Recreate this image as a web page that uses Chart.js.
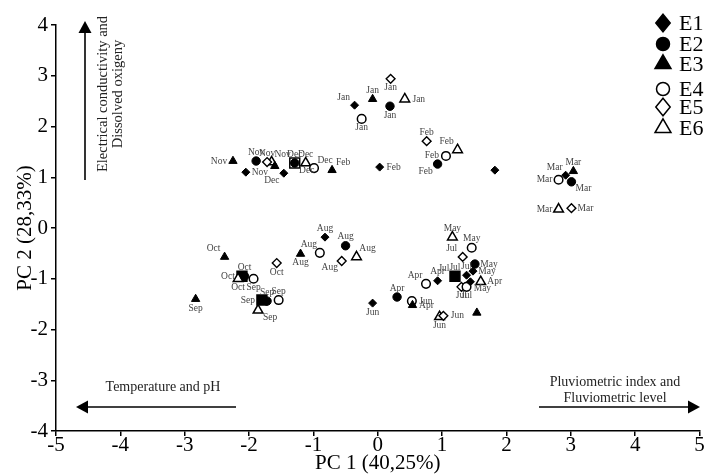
<!DOCTYPE html>
<html>
<head>
<meta charset="utf-8">
<script src="https://cdn.jsdelivr.net/npm/chart.js@4/dist/chart.umd.min.js"></script>
<style>
  html, body { margin: 0; padding: 0; background: #fff; }
</style>
</head>
<body>
<canvas id="pca" width="708" height="474"></canvas>
<script>
// PCA scores per sampling site
var e1x = [-0.36, 0.03, 1.82, 2.92, -2.05, -1.46, -0.82, 1.48, 1.38, 1.44, 0.93, -0.08];
var e1y = [2.42, 1.20, 1.14, 1.04, 1.10, 1.08, -0.18, -0.85, -0.93, -1.06, -1.04, -1.48];
var e1m = ["Jan", "Feb", "", "Mar", "Nov", "Dec", "Aug", "May", "Jul", "May", "Apr", "Jun"];

var e2x = [0.19, 0.93, 3.01, -1.89, -1.29, -0.50, -2.07, -1.72, 1.51, 0.30, 1.20];
var e2y = [2.40, 1.26, 0.91, 1.32, 1.28, -0.35, -0.95, -1.44, -0.71, -1.36, -0.95];
var e2m = ["Jan", "Feb", "Mar", "Nov", "Dec", "Aug", "Oct", "Sep", "May", "Apr", "Jul"];

var e3x = [-0.08, -0.71, 3.04, -2.25, -1.60, -1.20, -2.38, -2.83, 0.54, 1.54];
var e3y = [2.54, 1.14, 1.12, 1.32, 1.22, -0.51, -0.57, -1.40, -1.52, -1.67];
var e3m = ["Jan", "Feb", "Mar", "Nov", "", "Aug", "Oct", "Sep", "Apr", ""];

var e4x = [-0.25, 1.06, 2.81, -0.99, -0.90, -1.93, -1.54, 1.46, 1.38, 0.75, 0.53];
var e4y = [2.15, 1.42, 0.95, 1.18, -0.49, -1.00, -1.42, -0.39, -1.16, -1.10, -1.44];
var e4m = ["Jan", "Feb", "Mar", "Dec", "Aug", "Sep", "Sep", "May", "Jul", "Apr", "Jun"];

var e5x = [0.20, 0.76, 3.01, -1.72, -0.56, -1.57, 1.32, 1.30, 1.02];
var e5y = [2.94, 1.71, 0.39, 1.30, -0.65, -0.69, -0.57, -1.16, -1.73];
var e5m = ["Jan", "Feb", "Mar", "Nov", "Aug", "Oct", "Jul", "Jul", "Jun"];

var e6x = [0.42, 1.24, 2.81, -1.65, -1.12, -0.33, -2.17, -1.86, 1.16, 1.60, 0.96];
var e6y = [2.54, 1.54, 0.37, 1.30, 1.28, -0.57, -1.00, -1.62, -0.18, -1.06, -1.75];
var e6m = ["Jan", "Feb", "Mar", "Nov", "Dec", "Aug", "Oct", "Sep", "May", "Apr", "Jun"];

// square marks sitting on top of overlapping points
var sqx = [-1.29, -2.11, -1.80, 1.20];
var sqy = [1.28, -0.95, -1.42, -0.95];
var sqm = ["Dec", "Oct", "Sep", "Jul"];

// where each month label sits around its point
var e1p = ["al", "r", "", "al", "r", "bl", "a", "r", "a", "br", "a", "b"];
var e2p = ["b", "bl", "br", "a", "a", "a", "a", "a", "r", "a", "a"];
var e3p = ["a", "ar", "a", "l", "", "b", "al", "b", "r", ""];
var e4p = ["b", "l", "l", "ar", "al", "b", "a", "a", "b", "al", "r"];
var e5p = ["b", "a", "r", "a", "bl", "b", "al", "b", "r"];
var e6p = ["r", "al", "l", "ar", "a", "ar", "b", "br", "a", "r", "b"];
var sqp = ["br", "l", "l", "al"];

var OFF = {
  a: [0, -9], b: [0, 9], l: [-14, 0], r: [14, 0],
  al: [-11, -8], ar: [11, -8], bl: [-12, 7], br: [12, 7]
};
var SERIF = '"Liberation Serif", "DejaVu Serif", serif';

function pts(xs, ys) {
  return xs.map(function (x, i) { return { x: x, y: ys[i] }; });
}

function series(name, xs, ys, months, place, style, radius, filled, bw) {
  return {
    label: name,
    data: pts(xs, ys),
    months: months,
    place: place,
    filled: filled,
    pointStyle: style,
    pointRadius: radius,
    pointHoverRadius: radius,
    pointBackgroundColor: filled ? "#000" : "#fff",
    pointBorderColor: "#000",
    pointBorderWidth: bw
  };
}

function drawMarker(ctx, style, x, y, r, filled, bw) {
  ctx.beginPath();
  if (style === "circle") {
    ctx.arc(x, y, r, 0, Math.PI * 2);
  } else if (style === "rectRot") {
    ctx.moveTo(x, y - r * 1.1); ctx.lineTo(x + r * 0.9, y);
    ctx.lineTo(x, y + r * 1.1); ctx.lineTo(x - r * 0.9, y);
    ctx.closePath();
  } else {
    var h = r * Math.sqrt(3) / 2;
    ctx.moveTo(x, y - r); ctx.lineTo(x + h, y + r / 2); ctx.lineTo(x - h, y + r / 2);
    ctx.closePath();
  }
  ctx.fillStyle = filled ? "#000" : "#fff";
  ctx.fill();
  ctx.lineWidth = bw;
  ctx.strokeStyle = "#000";
  ctx.stroke();
}

function arrowHead(ctx, tx, ty, dx, dy) {
  // tip at (tx,ty), pointing along (dx,dy)
  var len = 12, half = 6.5;
  var bx = tx - dx * len, by = ty - dy * len;
  ctx.beginPath();
  ctx.moveTo(tx, ty);
  ctx.lineTo(bx - dy * half, by + dx * half);
  ctx.lineTo(bx + dy * half, by - dx * half);
  ctx.closePath();
  ctx.fill();
}

var overlay = {
  id: "overlay",
  afterDatasetsDraw: function (chart) {
    var ctx = chart.ctx;
    ctx.save();

    // month labels
    ctx.font = "9.5px " + SERIF;
    ctx.fillStyle = "#444";
    ctx.textAlign = "center";
    ctx.textBaseline = "middle";
    chart.data.datasets.forEach(function (ds, i) {
      var meta = chart.getDatasetMeta(i);
      meta.data.forEach(function (el, j) {
        var txt = ds.months[j];
        if (!txt) return;
        var o = OFF[ds.place[j]];
        ctx.fillText(txt, el.x + o[0], el.y + o[1]);
      });
    });

    // legend
    var ly = [23, 44, 64, 89, 107, 128];
    var lr = { rectRot: 8, circle: 6.5, triangle: 9.2 };
    for (var i = 0; i < 6; i++) {
      var ds = chart.data.datasets[i];
      drawMarker(ctx, ds.pointStyle, 663, ly[i], lr[ds.pointStyle], ds.filled, 1.5);
      ctx.fillStyle = "#000";
      ctx.font = "22px " + SERIF;
      ctx.textAlign = "left";
      ctx.fillText(ds.label, 679, ly[i] + 1);
    }

    // direction arrows
    ctx.strokeStyle = "#000";
    ctx.fillStyle = "#000";
    ctx.lineWidth = 1.6;
    ctx.beginPath(); ctx.moveTo(85, 180); ctx.lineTo(85, 32); ctx.stroke();
    arrowHead(ctx, 85, 21, 0, -1);
    ctx.beginPath(); ctx.moveTo(236, 407); ctx.lineTo(87, 407); ctx.stroke();
    arrowHead(ctx, 76, 407, -1, 0);
    ctx.beginPath(); ctx.moveTo(539, 407); ctx.lineTo(689, 407); ctx.stroke();
    arrowHead(ctx, 700, 407, 1, 0);

    ctx.fillStyle = "#222";
    ctx.textAlign = "center";
    ctx.font = "14px " + SERIF;
    ctx.fillText("Temperature and pH", 163, 387);
    ctx.fillText("Pluviometric index and", 615, 382);
    ctx.fillText("Fluviometric level", 615, 398);

    ctx.save();
    ctx.translate(103, 94);
    ctx.rotate(-Math.PI / 2);
    ctx.font = "14.5px " + SERIF;
    ctx.fillText("Electrical conductivity and", 0, 0);
    ctx.fillText("Dissolved oxigeny", 0, 15);
    ctx.restore();

    ctx.restore();
  }
};

var datasets = [
  series("E1", e1x, e1y, e1m, e1p, "rectRot", 4, true, 1),
  series("E2", e2x, e2y, e2m, e2p, "circle", 4.2, true, 1),
  series("E3", e3x, e3y, e3m, e3p, "triangle", 4.8, true, 1),
  series("E4", e4x, e4y, e4m, e4p, "circle", 4.3, false, 1.5),
  series("E5", e5x, e5y, e5m, e5p, "rectRot", 4.4, false, 1.4),
  series("E6", e6x, e6y, e6m, e6p, "triangle", 5.6, false, 1.5),
  {
    label: "",
    data: pts(sqx, sqy),
    months: sqm,
    place: sqp,
    pointStyle: "rect",
    pointRadius: 7,
    pointHoverRadius: 7,
    pointBackgroundColor: ["#fff", "#000", "#000", "#000"],
    pointBorderColor: "#000",
    pointBorderWidth: 1.5
  }
];

var tickFont = { family: SERIF, size: 21 };

new Chart(document.getElementById("pca").getContext("2d"), {
  type: "scatter",
  data: { datasets: datasets },
  options: {
    responsive: false,
    animation: false,
    layout: { padding: { top: 25, right: 8, left: 0, bottom: 0 } },
    plugins: { legend: { display: false }, tooltip: { enabled: false } },
    scales: {
      x: {
        min: -5, max: 5,
        ticks: { stepSize: 1, font: tickFont, color: "#000", padding: -3, maxRotation: 0 },
        grid: { drawOnChartArea: false, drawTicks: true, tickLength: 5, color: "#000", lineWidth: 1.5 },
        border: { color: "#000", width: 1.5 },
        title: { display: true, text: "PC 1 (40,25%)", font: { family: SERIF, size: 21, lineHeight: 1 }, color: "#000", padding: 0 },
        afterFit: function (s) { s.height = 43; }
      },
      y: {
        min: -4, max: 4,
        ticks: { stepSize: 1, font: tickFont, color: "#000", padding: 3 },
        grid: { drawOnChartArea: false, drawTicks: true, tickLength: 5, color: "#000", lineWidth: 1.5 },
        border: { color: "#000", width: 1.5 },
        title: { display: true, text: "PC 2 (28,33%)", font: { family: SERIF, size: 21 }, color: "#000", padding: { top: 13, bottom: 0 } },
        afterFit: function (s) { s.width = 56; }
      }
    }
  },
  plugins: [overlay]
});
</script>
</body>
</html>
